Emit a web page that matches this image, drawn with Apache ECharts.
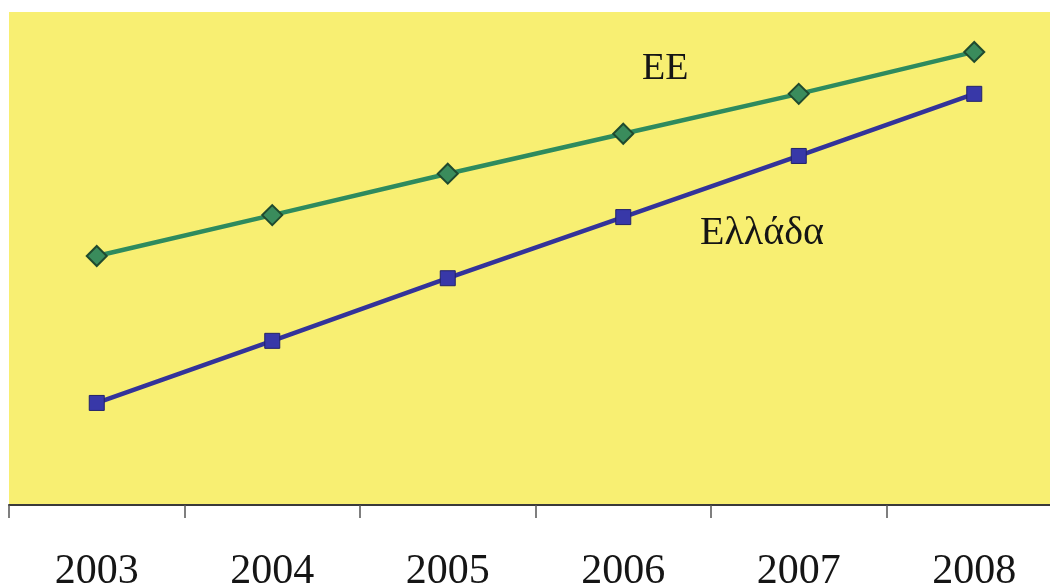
<!DOCTYPE html>
<html><head><meta charset="utf-8">
<script src="https://cdn.jsdelivr.net/npm/echarts@6/dist/echarts.min.js"></script>
<style>html,body{margin:0;padding:0;background:#fff}#c{width:1050px;height:587px}</style>
</head><body><div id="c"></div>
<script>
const years = ['2003','2004','2005','2006','2007','2008'];
const euValues = [50.5, 58.8, 67.2, 75.3, 83.4, 91.9];
const greeceValues = [20.7, 33.3, 46.0, 58.4, 70.8, 83.4];
const euName = 'ΕΕ';
const greeceName = 'Ελλάδα';

const chart = echarts.init(document.getElementById('c'));
chart.setOption({
  backgroundColor: '#ffffff',
  animation: false,
  grid: { left: 9, top: 12, width: 1053, height: 493, backgroundColor: '#F8EF72', show: true, borderWidth: 0,
          containLabel: false, outerBoundsMode: 'none' },
  xAxis: {
    type: 'category', data: years, boundaryGap: true,
    axisLine: { show: true, lineStyle: { color: '#3a3a3a', width: 2 } },
    axisTick: { show: true, length: 13, lineStyle: { color: '#555', width: 1.5 } },
    axisLabel: { fontFamily: 'Liberation Serif', fontSize: 42, color: '#151515', margin: 46 },
    splitLine: { show: false }
  },
  yAxis: { type: 'value', min: 0, max: 100, show: false, splitLine: { show: false } },
  series: [
    { name: euName, type: 'line', data: euValues, symbol: 'diamond', symbolSize: 20,
      lineStyle: { color: '#2E8B5E', width: 4.5 },
      itemStyle: { color: '#3A8C5C', borderColor: '#1F4A2F', borderWidth: 2 } },
    { name: greeceName, type: 'line', data: greeceValues, symbol: 'rect', symbolSize: 15,
      lineStyle: { color: '#33339A', width: 4.5 },
      itemStyle: { color: '#3838A8', borderColor: '#22226A', borderWidth: 1 } }
  ],
  graphic: [
    { type: 'text', left: 642, top: 50, style: { text: euName, font: '38px "Liberation Serif"', fill: '#151515' } },
    { type: 'text', left: 700, top: 213, style: { text: greeceName, font: '40px "Liberation Serif"', fill: '#151515' } }
  ]
});
</script></body></html>
